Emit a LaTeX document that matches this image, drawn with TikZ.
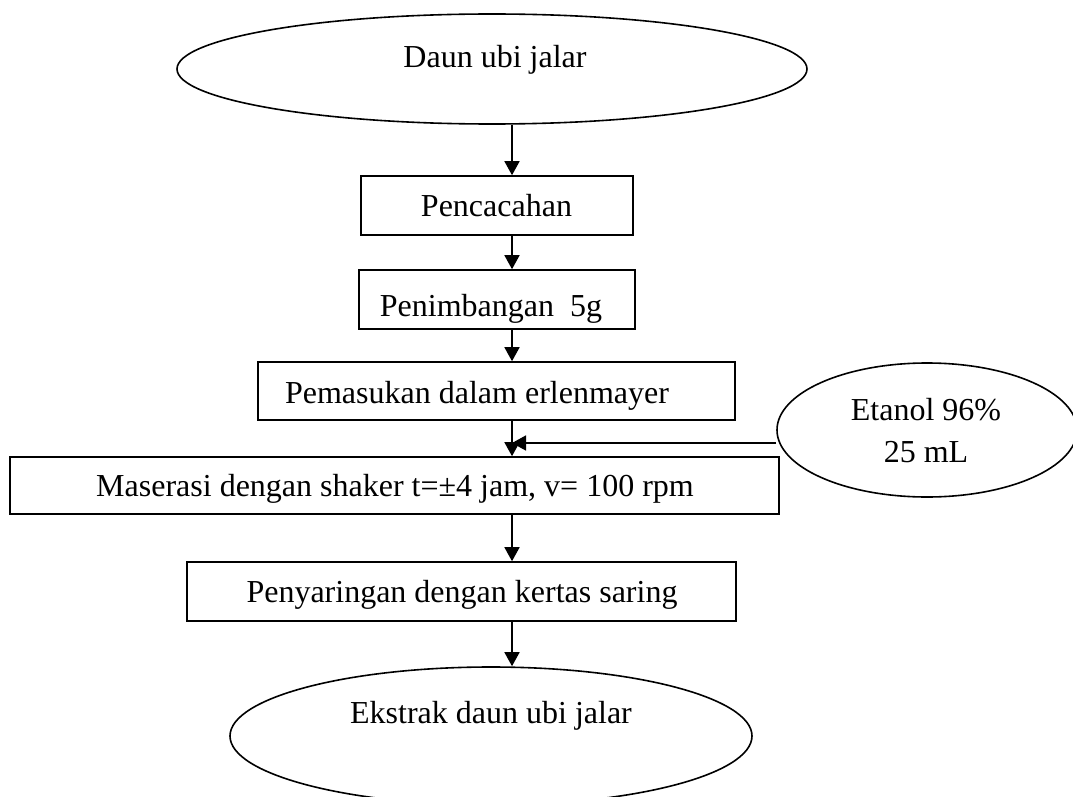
\documentclass[tikz,border=0pt]{standalone}
\usepackage{fontspec}
\setmainfont{Liberation Serif}
\usetikzlibrary{shapes.geometric,arrows.meta}
\begin{document}
\begin{tikzpicture}[x=1pt,y=-1pt,
  line width=1.6pt,
  oval/.style={draw,ellipse,inner sep=0pt},
  stepbox/.style={draw,rectangle,inner sep=0pt},
  lbl/.style={anchor=base,inner sep=0pt,font=\fontsize{32}{38}\selectfont},
  arr/.style={-{Triangle[length=14pt,width=15pt]}}]
\useasboundingbox (0,0) rectangle (1073,797);
% shapes
\node[oval,minimum width=630pt,minimum height=110pt] (e1) at (492,69) {};
\node[stepbox,minimum width=272pt,minimum height=59pt] (b1) at (497,205.5) {};
\node[stepbox,minimum width=276pt,minimum height=59pt] (b2) at (497,299.5) {};
\node[stepbox,minimum width=477pt,minimum height=58pt] (b3) at (496.5,391) {};
\node[stepbox,minimum width=769pt,minimum height=57pt] (b4) at (394.5,485.5) {};
\node[stepbox,minimum width=549pt,minimum height=59pt] (b5) at (461.5,591.5) {};
\node[oval,minimum width=522pt,minimum height=138pt] (e2) at (491,736) {};
\node[oval,minimum width=300pt,minimum height=134pt] (e3) at (927,430) {};
% texts
\node[lbl] (t1) at (495,68) {Daun ubi jalar};
\node[lbl] (t2) at (496.5,216) {Pencacahan};
\node[lbl] (t3) at (491,316) {Penimbangan\ \ 5g};
\node[lbl] (t4) at (477,403) {Pemasukan dalam erlenmayer};
\node[lbl] (t5) at (395,496) {Maserasi dengan shaker t=±4 jam, v= 100 rpm};
\node[lbl] (t6) at (462,602) {Penyaringan dengan kertas saring};
\node[lbl] (t7) at (491,723) {Ekstrak daun ubi jalar};
\node[lbl] (t8) at (926,420) {Etanol 96\%};
\node[lbl] (t9) at (926,462) {25 mL};
% connectors
\coordinate (ax) at (512,0);
\coordinate (j) at (512,443);
\draw[arr] (e1.south -| ax) -- (b1.north -| ax);
\draw[arr] (b1.south -| ax) -- (b2.north -| ax);
\draw[arr] (b2.south -| ax) -- (b3.north -| ax);
\draw[arr] (b3.south -| ax) -- (b4.north -| ax);
\draw[arr] (e3.west |- j) -- (j);
\draw[arr] (b4.south -| ax) -- (b5.north -| ax);
\draw[arr] (b5.south -| ax) -- (e2.north -| ax);
\end{tikzpicture}
\end{document}
